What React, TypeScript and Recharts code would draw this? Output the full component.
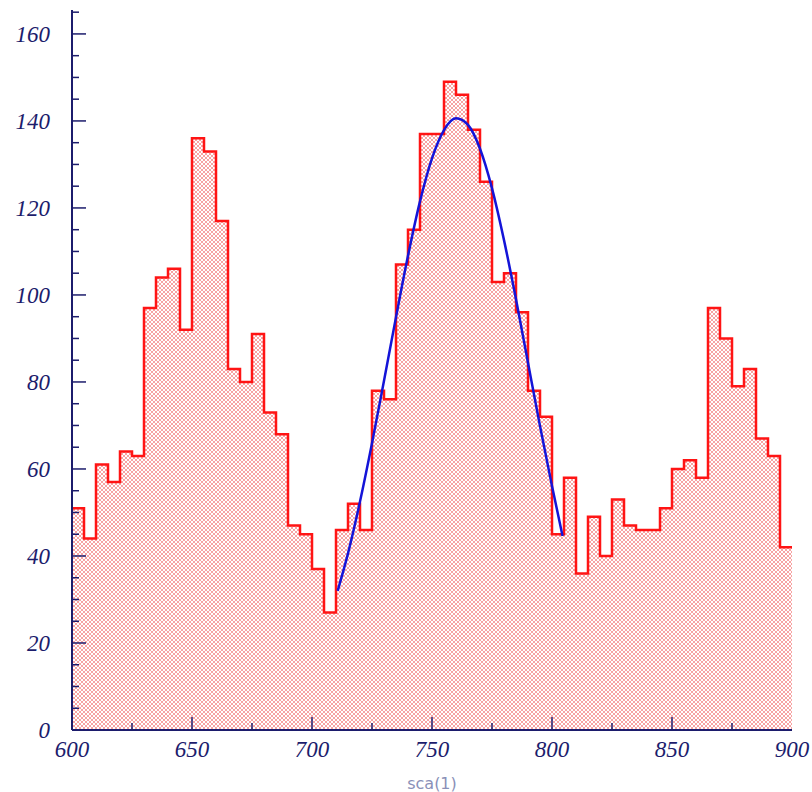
import { Area, ComposedChart, Line, XAxis, YAxis } from "recharts";

// histogram bins (left edges) and counts, last entry closes the final bin at 900
const binEdges = [
  600, 605, 610, 615, 620, 625, 630, 635, 640, 645,
  650, 655, 660, 665, 670, 675, 680, 685, 690, 695,
  700, 705, 710, 715, 720, 725, 730, 735, 740, 745,
  750, 755, 760, 765, 770, 775, 780, 785, 790, 795,
  800, 805, 810, 815, 820, 825, 830, 835, 840, 845,
  850, 855, 860, 865, 870, 875, 880, 885, 890, 895,
  900,
];
const counts = [
  51, 44, 61, 57, 64, 63, 97, 104, 106, 92,
  136, 133, 117, 83, 80, 91, 73, 68, 47, 45,
  37, 27, 46, 52, 46, 78, 76, 107, 115, 137,
  137, 149, 146, 138, 126, 103, 105, 96, 78, 72,
  45, 58, 36, 49, 40, 53, 47, 46, 46, 51,
  60, 62, 58, 97, 90, 79, 83, 67, 63, 42,
  42,
];

// fitted curve
const fitX = [710.7, 715, 720, 725, 730, 735, 740, 745, 750, 755, 760, 765, 770, 775, 780, 785, 790, 795, 800, 804.4];
const fitY = [32, 40.6, 52.5, 65.9, 80.3, 94.9, 109, 121.5, 131.4, 137.9, 140.6, 139.1, 133.6, 124.5, 112.6, 99, 84.4, 69.9, 56.1, 44.6];

const xTicks = [600, 625, 650, 675, 700, 725, 750, 775, 800, 825, 850, 875, 900];
const yTicks = [
  0, 5, 10, 15, 20, 25, 30, 35, 40, 45, 50, 55, 60, 65, 70, 75, 80, 85,
  90, 95, 100, 105, 110, 115, 120, 125, 130, 135, 140, 145, 150, 155, 160, 165,
];

const histData = binEdges.map((x, i) => ({ x, n: counts[i] }));
const fitData = fitX.map((x, i) => ({ x, fit: fitY[i] }));

const NAVY = "#1c1c6c";
const Y_MARGIN = 22;
const X_MARGIN = 10;
const labelFont = {
  fontFamily: "'Liberation Serif', serif",
  fontStyle: "italic" as const,
  fontSize: 23,
  fill: NAVY,
};

function YTick(props: any) {
  const { x, y, payload } = props;
  const v = payload.value;
  const major = v % 20 === 0;
  const ax = x + Y_MARGIN;
  return (
    <g>
      {v > 0 && (
        <line x1={ax} x2={ax + (major ? 14 : 7)} y1={y} y2={y} stroke={NAVY} strokeWidth={1.5} />
      )}
      {major && (
        <text x={x} y={y} dy={8} textAnchor="end" {...labelFont}>
          {v}
        </text>
      )}
    </g>
  );
}

function XTick(props: any) {
  const { x, y, payload } = props;
  const v = payload.value;
  const major = v % 50 === 0;
  const ay = y - X_MARGIN;
  return (
    <g>
      {v > 600 && v < 900 && (
        <line x1={x} x2={x} y1={ay} y2={ay - (major ? 13 : 7)} stroke={NAVY} strokeWidth={1.5} />
      )}
      {major && (
        <text x={x} y={y} dy={17} textAnchor="middle" {...labelFont}>
          {v}
        </text>
      )}
    </g>
  );
}

function AxisTitle(props: any) {
  const { viewBox } = props;
  return (
    <text
      x={viewBox.x + viewBox.width / 2}
      y={viewBox.y + 59}
      textAnchor="middle"
      fontFamily="'DejaVu Sans', sans-serif"
      fontSize={16}
      fill="#8a90b8"
    >
      sca(1)
    </text>
  );
}

export default function App() {
  return (
    <div style={{ position: "absolute", left: 0, top: 0, background: "#fff" }}>
      <ComposedChart
        width={812}
        height={792}
        data={histData}
        margin={{ top: 10, right: 20, left: 12, bottom: 0 }}
      >
        <defs>
          <pattern id="hatch" width={4} height={4} patternUnits="userSpaceOnUse">
            <rect width={4} height={4} fill="#fff" />
            <path d="M0,0 L4,4 M4,0 L0,4" stroke="#f48484" strokeWidth={0.75} />
          </pattern>
        </defs>
        <XAxis
          dataKey="x"
          type="number"
          domain={[600, 900]}
          ticks={xTicks}
          allowDataOverflow
          height={62}
          tickSize={0}
          tickLine={false}
          tickMargin={X_MARGIN}
          tick={<XTick />}
          axisLine={{ stroke: NAVY, strokeWidth: 2 }}
          label={<AxisTitle />}
          interval={0}
        />
        <XAxis
          xAxisId="top"
          orientation="top"
          type="number"
          domain={[600, 900]}
          ticks={[]}
          height={0}
          tick={false}
          tickLine={false}
          axisLine={{ stroke: NAVY, strokeWidth: 2 }}
        />
        <YAxis
          type="number"
          domain={[0, 165.5]}
          ticks={yTicks}
          allowDataOverflow
          width={60}
          tickSize={0}
          tickLine={false}
          tickMargin={Y_MARGIN}
          tick={<YTick />}
          axisLine={{ stroke: NAVY, strokeWidth: 2 }}
          interval={0}
        />
        <YAxis
          yAxisId="right"
          orientation="right"
          type="number"
          domain={[0, 165.5]}
          ticks={[]}
          width={0}
          tick={false}
          tickLine={false}
          axisLine={{ stroke: NAVY, strokeWidth: 2 }}
        />
        <Area
          dataKey="n"
          type="stepAfter"
          stroke="#ff1414"
          strokeWidth={2.5}
          fill="url(#hatch)"
          fillOpacity={1}
          baseValue={0}
          isAnimationActive={false}
          dot={false}
          activeDot={false}
        />
        <Line
          data={fitData}
          dataKey="fit"
          type="monotone"
          stroke="#1414d8"
          strokeWidth={2.5}
          dot={false}
          activeDot={false}
          isAnimationActive={false}
        />
      </ComposedChart>
    </div>
  );
}
